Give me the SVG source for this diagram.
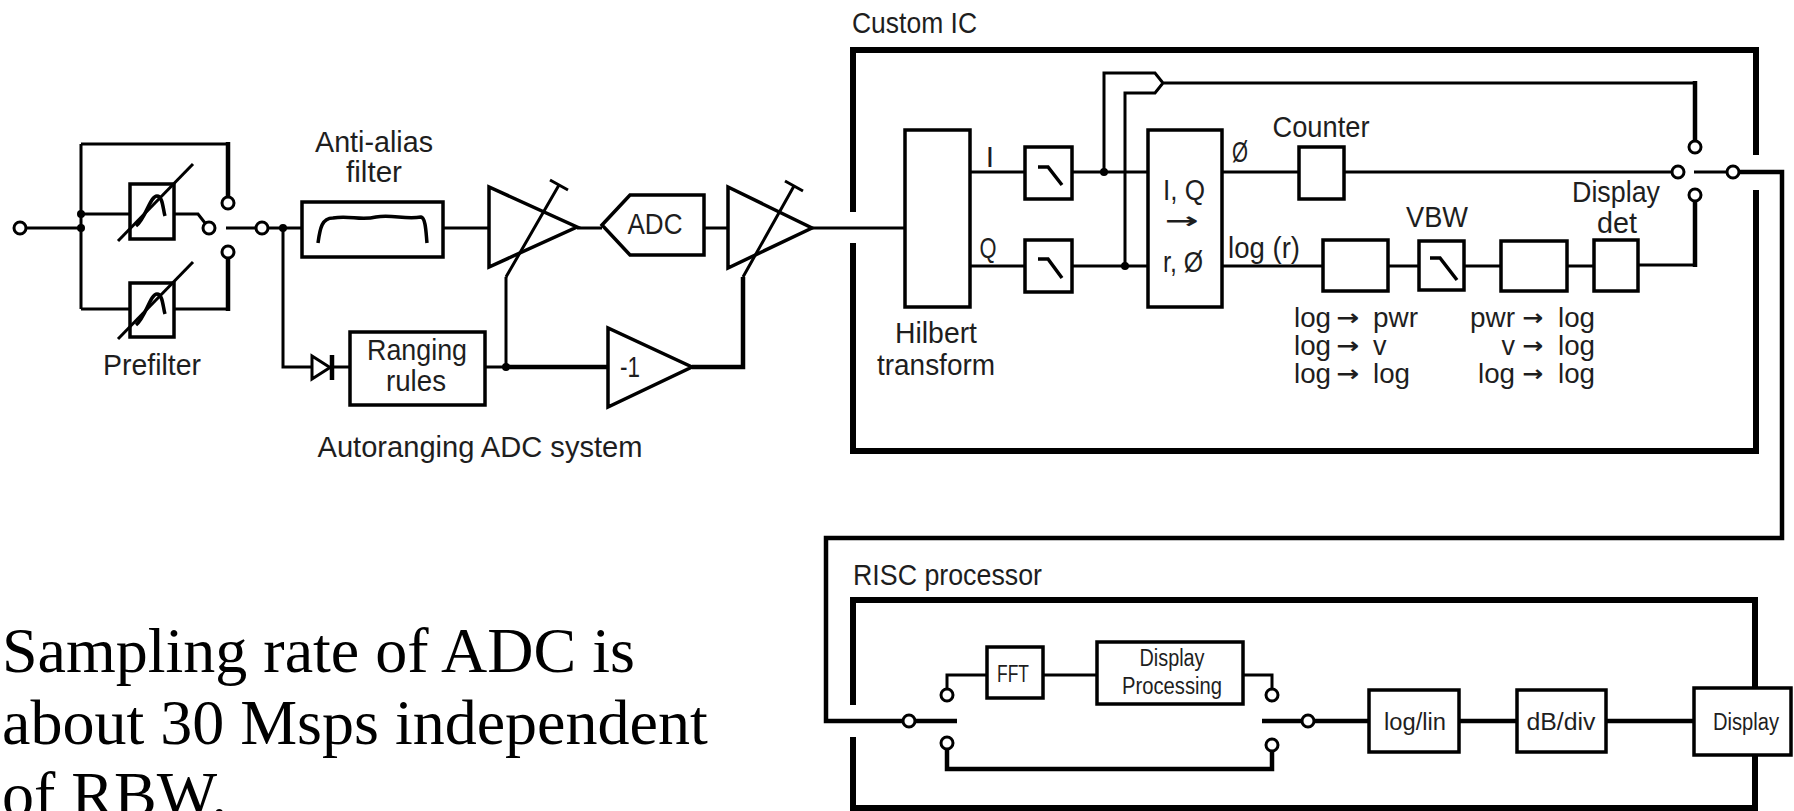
<svg xmlns="http://www.w3.org/2000/svg" width="1794" height="811" viewBox="0 0 1794 811">
<style>
.ln{stroke:#000;stroke-width:3;fill:none}
.th{stroke:#000;stroke-width:4.5;fill:none}
.bx{stroke:#000;stroke-width:3.5;fill:#fff}
.brd{stroke:#000;stroke-width:6;fill:none}
.ct{stroke:#000;stroke-width:3;fill:#fff}
.dot{fill:#000}
.sym{stroke:#000;stroke-width:3.5;fill:none}
.tri{stroke:#000;stroke-width:3.5;fill:#fff;stroke-linejoin:miter}
text{font-family:"Liberation Sans",Arial,sans-serif;font-size:30px;fill:#1e1e1e}
.m{text-anchor:middle}
.e{text-anchor:end}
.s{font-size:23px}
.cv{font-size:27px}
.ar{font-family:"DejaVu Sans",sans-serif;font-weight:bold;font-size:22px}
.serif{font-family:"Liberation Serif","Times New Roman",serif;font-size:64px;fill:#000}
</style>
<rect width="1794" height="811" fill="#fff"/>

<g id="connectors">
  <path class="ln" d="M26,228 H81 M81,144 V309 M81,144 H228 M81,214 H130 M174,214 H198 L205,223 M81,309 H130 M174,309 H228"/>
  <path class="th" d="M228,142 V197 M228,258 V311"/>
  <path class="ln" d="M226,228 H256 M268,228 H302 M283,228 V367 H312 M333,367 H350 M443,228 H489 M577,228 H602 M704,228 H728 M812,228 H905 M485,367 H506"/>
  <path class="th" d="M506,367 H608 M692,367 H743 V277"/>
  <path class="ln" d="M506,367 V277"/>
  <path class="ln" d="M970,172 H1025 M1072,172 H1148 M970,266 H1025 M1072,266 H1148 M1104,172 V73 H1155 L1163,83 L1155,93 H1125 V266 M1163,83 H1695 M1222,172 H1299 M1344,172 H1672 M1222,266 H1323 M1388,266 H1419 M1464,266 H1501 M1567,266 H1594 M1638,265 H1697 M1694,172 H1727"/>
  <path class="th" d="M1695,81 V141 M1695,201 V267"/>
  <path class="th" d="M1739,172 H1782 V538 H826 V721 H903"/>
  <path class="th" d="M915,721 H957"/>
  <path class="ln" d="M947,689 V675 H987 M1043,675 H1097 M1243,675 H1272 V689"/>
  <path class="th" d="M947,749 V769 H1272 V751 M1262,721 H1302 M1314,721 H1369 M1459,721 H1517 M1606,721 H1694"/>
</g>

<g id="custom-ic">
  <path class="brd" d="M853,212 V50 H1756 V155 M1756,190 V451 H853 V243"/>
  <text x="852" y="33" textLength="125" lengthAdjust="spacingAndGlyphs">Custom IC</text>
</g>

<g id="risc-processor">
  <path class="brd" d="M853,705 V600 H1755 V688 M1755,755 V808 H853 V737"/>
  <text x="853" y="585" textLength="189" lengthAdjust="spacingAndGlyphs">RISC processor</text>
</g>

<g id="input">
  <circle class="ct" cx="20" cy="228" r="6"/>
  <circle class="dot" cx="81" cy="214" r="4"/>
  <circle class="dot" cx="81" cy="228" r="4"/>
</g>

<g id="prefilter">
  <rect class="bx" x="130" y="184" width="44" height="55"/>
  <path class="sym" d="M136,226 C146,218 150,196 157,196 C163,196 163,210 165,216"/>
  <path class="ln" d="M118,241 L193,164"/>
  <rect class="bx" x="130" y="283" width="44" height="54"/>
  <path class="sym" d="M136,325 C146,317 150,294 157,294 C163,294 163,308 165,314"/>
  <path class="ln" d="M118,339 L193,262"/>
  <text class="m" x="152" y="375" textLength="98" lengthAdjust="spacingAndGlyphs">Prefilter</text>
</g>

<g id="prefilter-switch">
  <circle class="ct" cx="209" cy="228" r="6"/>
  <circle class="ct" cx="228" cy="203" r="6"/>
  <circle class="ct" cx="228" cy="252" r="6"/>
  <circle class="ct" cx="262" cy="228" r="6"/>
  <circle class="dot" cx="283" cy="228" r="4"/>
</g>

<g id="anti-alias">
  <rect class="bx" x="302" y="202" width="141" height="55"/>
  <path class="sym" d="M318,243 C320,228 322,218 333,218 C350,215 360,221 376,217 C392,214 405,220 421,217 C426,218 426,234 427,243"/>
  <text class="m" x="374" y="152" textLength="118" lengthAdjust="spacingAndGlyphs">Anti-alias</text>
  <text class="m" x="374" y="182" textLength="56" lengthAdjust="spacingAndGlyphs">filter</text>
</g>

<g id="amp1">
  <path class="tri" d="M489,187 L489,267 L577,227 Z"/>
  <path class="ln" d="M506,277 L559,185 M550,180 L568,190"/>
</g>

<g id="adc">
  <path class="bx" d="M602,225 L630,195 H704 V255 H630 Z"/>
  <text class="m" x="655" y="234" textLength="55" lengthAdjust="spacingAndGlyphs">ADC</text>
</g>

<g id="amp2">
  <path class="tri" d="M728,187 L728,268 L812,228 Z"/>
  <path class="ln" d="M743,277 L794,186 M785,181 L803,191"/>
</g>

<g id="diode">
  <path d="M312,356 L312,379 L330,367.5 Z" fill="#fff" stroke="#000" stroke-width="3"/>
  <path class="th" d="M332,355 V380"/>
</g>

<g id="ranging-rules">
  <rect class="bx" x="350" y="332" width="135" height="73"/>
  <text class="m" x="417" y="360" textLength="100" lengthAdjust="spacingAndGlyphs">Ranging</text>
  <text class="m" x="416" y="391" textLength="60" lengthAdjust="spacingAndGlyphs">rules</text>
  <circle class="dot" cx="506" cy="367" r="4"/>
</g>

<g id="invert">
  <path class="tri" d="M608,328 L608,407 L692,367 Z"/>
  <text class="m" x="630" y="377" font-size="28" textLength="20" lengthAdjust="spacingAndGlyphs">-1</text>
</g>

<g id="autoranging-label">
  <text class="m" x="480" y="457" textLength="325" lengthAdjust="spacingAndGlyphs">Autoranging ADC system</text>
</g>

<g id="hilbert">
  <rect class="bx" x="905" y="130" width="65" height="177"/>
  <text class="m" x="936" y="343" textLength="82" lengthAdjust="spacingAndGlyphs">Hilbert</text>
  <text class="m" x="936" y="375" textLength="118" lengthAdjust="spacingAndGlyphs">transform</text>
  <text class="m" x="990" y="167">I</text>
  <text class="m" x="988" y="258" textLength="17" lengthAdjust="spacingAndGlyphs">Q</text>
</g>

<g id="lpf-i">
  <rect class="bx" x="1025" y="147" width="47" height="52"/>
  <path class="sym" d="M1038,167 H1048 L1062,185"/>
  <circle class="dot" cx="1104" cy="172" r="4"/>
</g>

<g id="lpf-q">
  <rect class="bx" x="1025" y="240" width="47" height="52"/>
  <path class="sym" d="M1038,259 H1048 L1062,278"/>
  <circle class="dot" cx="1125" cy="266" r="4"/>
</g>

<g id="iq-to-polar">
  <rect class="bx" x="1148" y="130" width="74" height="177"/>
  <text class="m" x="1184" y="200" textLength="42" lengthAdjust="spacingAndGlyphs">I, Q</text>
  <text class="m ar" x="1182" y="228" font-size="30" textLength="34" lengthAdjust="spacingAndGlyphs">→</text>
  <text class="m" x="1183" y="272" textLength="40" lengthAdjust="spacingAndGlyphs">r, Ø</text>
  <text class="m" x="1240" y="162" textLength="16" lengthAdjust="spacingAndGlyphs">Ø</text>
  <text x="1228" y="258" textLength="72" lengthAdjust="spacingAndGlyphs">log (r)</text>
</g>

<g id="counter">
  <rect class="bx" x="1299" y="147" width="45" height="52"/>
  <text class="m" x="1321" y="137" textLength="97" lengthAdjust="spacingAndGlyphs">Counter</text>
</g>

<g id="log-to-pwr">
  <rect class="bx" x="1323" y="240" width="65" height="51"/>
  <text class="cv" x="1294" y="327" textLength="37" lengthAdjust="spacingAndGlyphs">log</text>
  <text class="cv" x="1294" y="355" textLength="37" lengthAdjust="spacingAndGlyphs">log</text>
  <text class="cv" x="1294" y="383" textLength="37" lengthAdjust="spacingAndGlyphs">log</text>
  <text class="m ar" x="1348" y="325" textLength="23" lengthAdjust="spacingAndGlyphs">→</text>
  <text class="m ar" x="1348" y="353" textLength="23" lengthAdjust="spacingAndGlyphs">→</text>
  <text class="m ar" x="1348" y="381" textLength="23" lengthAdjust="spacingAndGlyphs">→</text>
  <text class="cv" x="1373" y="327" textLength="45" lengthAdjust="spacingAndGlyphs">pwr</text>
  <text class="cv" x="1373" y="355">v</text>
  <text class="cv" x="1373" y="383" textLength="37" lengthAdjust="spacingAndGlyphs">log</text>
</g>

<g id="vbw">
  <rect class="bx" x="1419" y="241" width="45" height="49"/>
  <path class="sym" d="M1430,258 H1440 L1457,280"/>
  <text class="m" x="1437" y="227" textLength="62" lengthAdjust="spacingAndGlyphs">VBW</text>
</g>

<g id="pwr-to-log">
  <rect class="bx" x="1501" y="241" width="66" height="50"/>
  <text class="e cv" x="1515" y="327" textLength="45" lengthAdjust="spacingAndGlyphs">pwr</text>
  <text class="e cv" x="1515" y="355">v</text>
  <text class="e cv" x="1515" y="383" textLength="37" lengthAdjust="spacingAndGlyphs">log</text>
  <text class="m ar" x="1533" y="325" textLength="21" lengthAdjust="spacingAndGlyphs">→</text>
  <text class="m ar" x="1533" y="353" textLength="21" lengthAdjust="spacingAndGlyphs">→</text>
  <text class="m ar" x="1533" y="381" textLength="21" lengthAdjust="spacingAndGlyphs">→</text>
  <text class="cv" x="1558" y="327" textLength="37" lengthAdjust="spacingAndGlyphs">log</text>
  <text class="cv" x="1558" y="355" textLength="37" lengthAdjust="spacingAndGlyphs">log</text>
  <text class="cv" x="1558" y="383" textLength="37" lengthAdjust="spacingAndGlyphs">log</text>
</g>

<g id="display-det">
  <rect class="bx" x="1594" y="240" width="44" height="51"/>
  <text class="m" x="1616" y="202" textLength="88" lengthAdjust="spacingAndGlyphs">Display</text>
  <text class="m" x="1617" y="233" textLength="40" lengthAdjust="spacingAndGlyphs">det</text>
</g>

<g id="ic-output-switch">
  <circle class="ct" cx="1695" cy="147" r="6"/>
  <circle class="ct" cx="1678" cy="172" r="6"/>
  <circle class="ct" cx="1695" cy="195" r="6"/>
  <circle class="ct" cx="1733" cy="172" r="6"/>
</g>

<g id="risc-input-switch">
  <circle class="ct" cx="909" cy="721" r="6"/>
  <circle class="ct" cx="947" cy="695" r="6"/>
  <circle class="ct" cx="947" cy="743" r="6"/>
</g>

<g id="fft">
  <rect class="bx" x="987" y="647" width="56" height="51"/>
  <text class="m s" x="1013" y="682" textLength="32" lengthAdjust="spacingAndGlyphs">FFT</text>
</g>

<g id="display-processing">
  <rect class="bx" x="1097" y="642" width="146" height="62"/>
  <text class="m s" x="1172" y="666" textLength="65" lengthAdjust="spacingAndGlyphs">Display</text>
  <text class="m s" x="1172" y="694" textLength="100" lengthAdjust="spacingAndGlyphs">Processing</text>
</g>

<g id="risc-output-switch">
  <circle class="ct" cx="1272" cy="695" r="6"/>
  <circle class="ct" cx="1272" cy="745" r="6"/>
  <circle class="ct" cx="1308" cy="721" r="6"/>
</g>

<g id="log-lin">
  <rect class="bx" x="1369" y="690" width="90" height="62"/>
  <text class="m s" x="1415" y="730" textLength="62" lengthAdjust="spacingAndGlyphs">log/lin</text>
</g>

<g id="db-div">
  <rect class="bx" x="1517" y="690" width="89" height="62"/>
  <text class="m s" x="1561" y="730" textLength="69" lengthAdjust="spacingAndGlyphs">dB/div</text>
</g>

<g id="display">
  <rect class="bx" x="1694" y="688" width="97" height="67"/>
  <text class="m s" x="1746" y="730" textLength="66" lengthAdjust="spacingAndGlyphs">Display</text>
</g>

<g id="note">
  <text class="serif" x="2" y="672">Sampling rate of ADC is</text>
  <text class="serif" x="2" y="744">about 30 Msps independent</text>
  <text class="serif" x="2" y="816">of RBW.</text>
</g>
</svg>
